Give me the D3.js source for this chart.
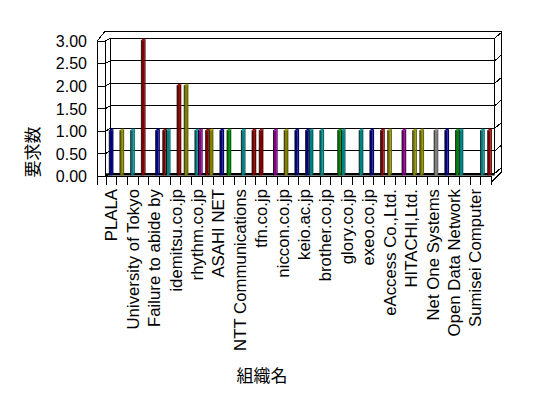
<!DOCTYPE html>
<html>
<head>
<meta charset="utf-8">
<script src="https://cdn.jsdelivr.net/npm/d3@7"></script>
<style>
  body { margin: 0; background: #fff; }
  text { font-family: "Liberation Sans", Arial, sans-serif; font-size: 16px; fill: #000; }
  .xlab { font-size: 16.8px; }
  .cjk { font-family: "Noto Sans CJK JP", "Noto Sans CJK SC", sans-serif; font-size: 17px; }
</style>
</head>
<body>
<div id="chart"></div>
<script>
// organisations along the x axis (only every other name is printed in the chart)
const orgNames = ["PLALA", "", "University of Tokyo", "", "Failure to abide by", "", "idemitsu.co.jp", "",
  "rhythm.co.jp", "", "ASAHI NET", "", "NTT Communications", "", "tfn.co.jp", "", "niccon.co.jp", "",
  "keio.ac.jp", "", "brother.co.jp", "", "glory.co.jp", "", "exeo.co.jp", "", "eAccess Co.,Ltd.", "",
  "HITACHI,Ltd.", "", "Net One Systems", "", "Open Data Network", "", "Sumisei Computer", ""];

// one entry per visible bar: organisation index, series slot inside the group, value, colour group
const barOrg   = [0, 1, 2, 3, 4, 5, 5, 6, 7, 8, 8, 9, 9, 10, 11, 12, 13, 14, 15, 16, 17, 18, 19, 20,
  21, 22, 23, 24, 25, 26, 27, 28, 29, 30, 31, 32, 33, 35, 35];
const barSlot  = [1, 1, 1, 1, 2, 1, 2, 2, 1, 1, 2, 1, 2, 2, 1, 2, 2, 1, 2, 2, 2, 2, 0, 0,
  2, 0, 2, 2, 2, 1, 2, 2, 1, 2, 2, 2, 0, 0, 2];
const barValue = [1, 1, 1, 3, 1, 1, 1, 2, 2, 1, 1, 1, 1, 1, 1, 1, 1, 1, 1, 1, 1, 1, 1, 1,
  1, 1, 1, 1, 1, 1, 1, 1, 1, 1, 1, 1, 1, 1, 1];
const barGroup = [0, 1, 2, 3, 0, 3, 2, 3, 1, 2, 4, 3, 1, 0, 5, 2, 3, 3, 4, 1, 0, 0, 2, 2,
  5, 2, 2, 0, 3, 1, 4, 1, 1, 6, 0, 5, 2, 2, 3];

const yTicks = [0, 0.5, 1, 1.5, 2, 2.5, 3];

const bars = barOrg.map((o, i) => ({ org: o, slot: barSlot[i], value: barValue[i], group: barGroup[i] }));

const svg = d3.select("#chart")
  .append("svg")
  .attr("width", 548)
  .attr("height", 398);

const x = d3.scaleBand()
  .domain(d3.range(orgNames.length))
  .range([106, 491.6]);

const slot = d3.scaleBand()
  .domain([0, 1, 2])
  .range([0, x.bandwidth()]);

const y = d3.scaleLinear()
  .domain([0, 3])
  .range([176.5, 41.3]);

const color = d3.scaleOrdinal()
  .domain(d3.range(7))
  .range(["#000080", "#808000", "#008080", "#800000", "#800080", "#008000", "#808080"]);

const x0 = x.range()[0], x1 = x.range()[1];
const axisX = 97;

// 3D box: back wall, left wall slab, right edge
const frame = svg.append("g")
  .attr("fill", "none")
  .attr("stroke", "#000")
  .attr("shape-rendering", "crispEdges");

const line = pts => frame.append("path").attr("d", d3.line()(pts));

yTicks.forEach(v => {
  line([[x0 - 1, y(v)], [x0 + 4, y(v) - 3], [x1 + 3, y(v) - 3], [x1 + 10, y(v) - 9]]);
  line([[axisX, y(v)], [x0 - 1, y(v)]]);
});

line([[axisX, y(0) + 8.5], [axisX, y(3)], [axisX + 7.5, y(3) - 9.5], [x1 + 10, y(3) - 9.5],
  [x1 + 10, y(0) - 4.8], [x1, y(0) + 5.2]]);
line([[x0 - 1, y(3)], [x0 - 1, y(0)]]);
line([[x0 + 4, y(3) - 3], [x0 + 4, y(0) - 3]]);
line([[x1 + 3, y(3) - 3], [x1 + 3, y(0) - 3]]);

// floor
svg.append("rect")
  .attr("x", x0)
  .attr("y", y(0) - 3.2)
  .attr("width", x1 + 3 - x0)
  .attr("height", 2.2)
  .attr("fill", "#000");

// bars
const bw = 2.8, side = 1.4;
const barG = svg.append("g");

bars.forEach(d => {
  const bx = x(d.org) + slot(d.slot) + (slot.bandwidth() - bw - side) / 2;
  const top = y(d.value) - 1.2;
  const bot = y(0) - 1.2;
  const c = color(d.group);

  barG.append("path")
    .attr("d", d3.line()([[bx, top], [bx + side, top - side], [bx + bw + side, top - side], [bx + bw, top]]) + "Z")
    .attr("fill", d3.color(c).brighter(0.6));

  barG.append("path")
    .attr("d", d3.line()([[bx + bw, top], [bx + bw + side, top - side], [bx + bw + side, bot - side], [bx + bw, bot]]) + "Z")
    .attr("fill", d3.color(c).darker(0.6));

  barG.append("rect")
    .attr("x", bx)
    .attr("y", top)
    .attr("width", bw)
    .attr("height", bot - top)
    .attr("fill", c);

  barG.append("line")
    .attr("x1", bx).attr("x2", bx)
    .attr("y1", top).attr("y2", bot)
    .attr("stroke", "#000")
    .attr("stroke-width", 0.8);
});

// front edge of the floor and category ticks
line([[axisX, y(0)], [x1, y(0)]]);
d3.range(orgNames.length + 1).forEach(i => {
  const tx = i < orgNames.length ? x(i) : x1;
  line([[tx, y(0)], [tx, y(0) + 8.5]]);
});

// y tick labels
svg.append("g")
  .selectAll("text")
  .data(yTicks)
  .enter()
  .append("text")
  .attr("x", 87)
  .attr("y", d => y(d))
  .attr("dy", "0.35em")
  .attr("text-anchor", "end")
  .text(d3.format(".2f"));

// x labels, rotated
svg.append("g")
  .selectAll("text")
  .data(orgNames.map((n, i) => ({ n, i })).filter(d => d.n !== ""))
  .enter()
  .append("text")
  .attr("class", "xlab")
  .attr("transform", d => `translate(${x(d.i) + x.bandwidth() / 2},189) rotate(-90)`)
  .attr("dy", "0.35em")
  .attr("text-anchor", "end")
  .text(d => d.n);

// axis titles
svg.append("text")
  .attr("class", "cjk")
  .attr("transform", "translate(33,152) rotate(-90)")
  .attr("dy", "0.35em")
  .attr("text-anchor", "middle")
  .text("要求数");

svg.append("text")
  .attr("class", "cjk")
  .attr("x", 262)
  .attr("y", 376)
  .attr("dy", "0.35em")
  .attr("text-anchor", "middle")
  .text("組織名");
</script>
</body>
</html>
